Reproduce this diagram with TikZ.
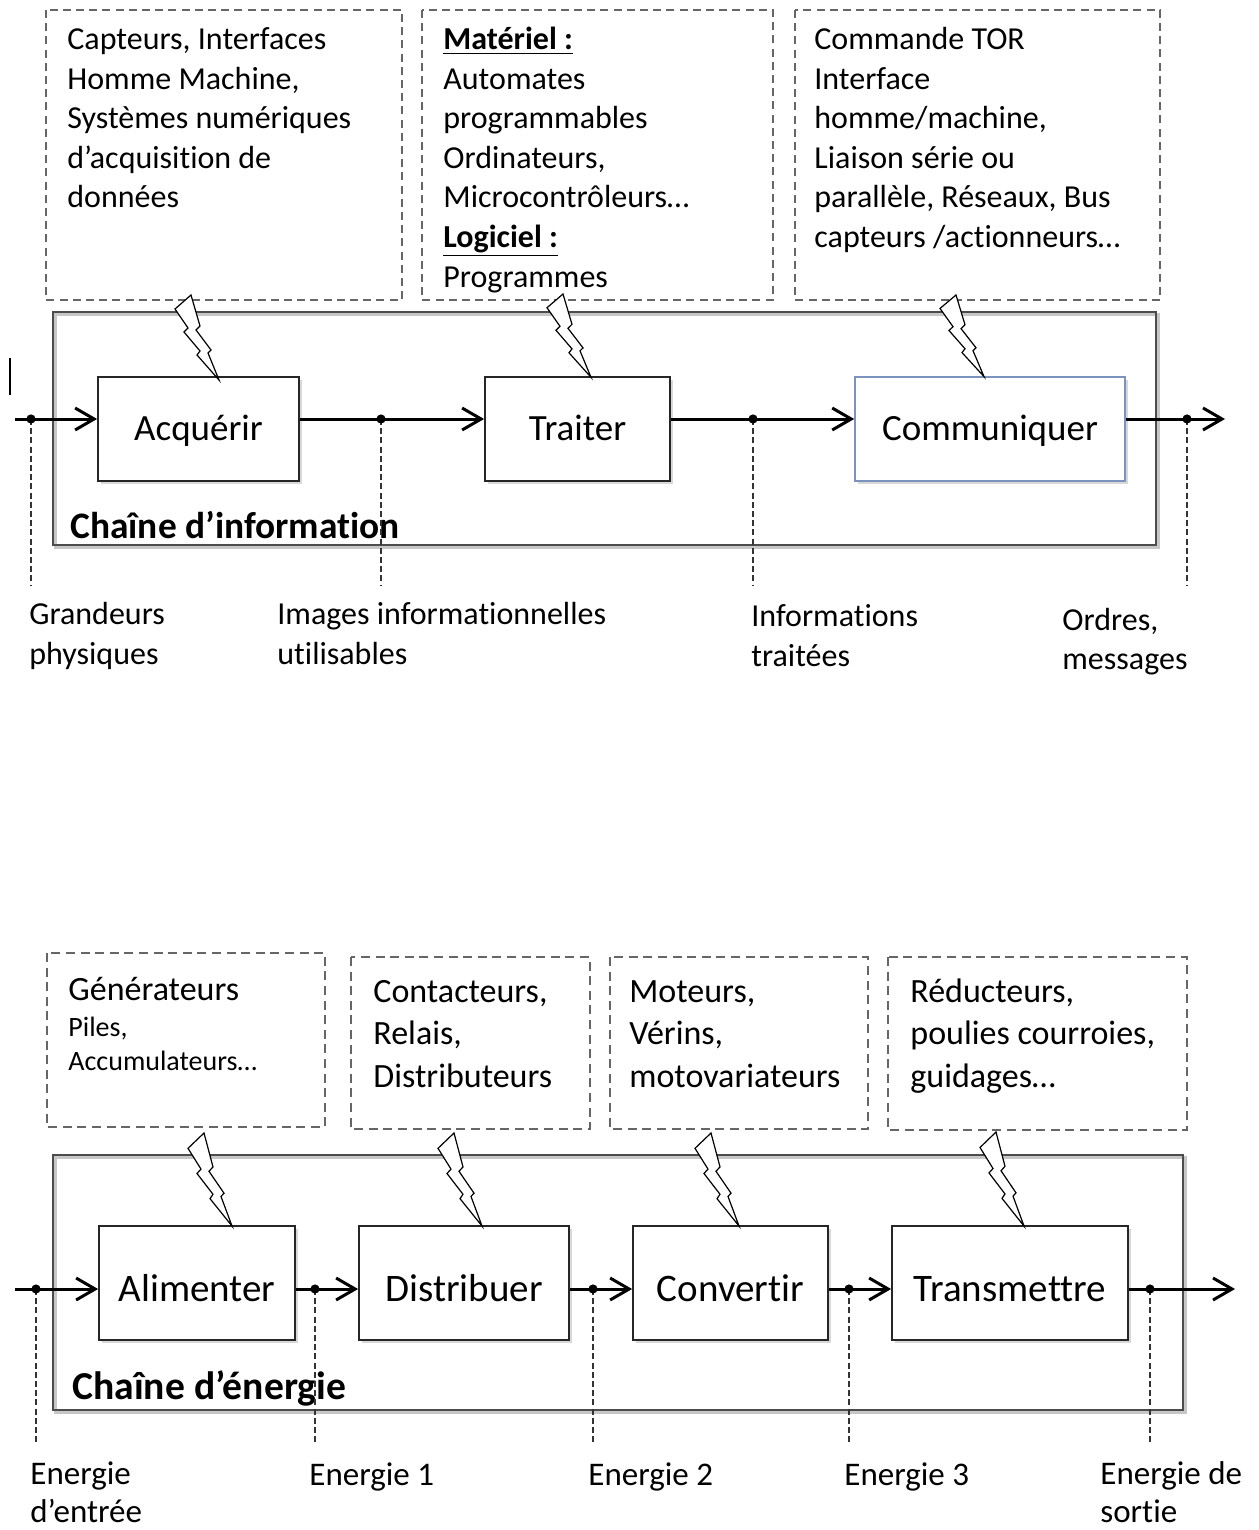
\documentclass[tikz,border=0pt]{standalone}
\usepackage{fontspec}
\setmainfont[Ligatures={NoCommon}]{Carlito}
\usetikzlibrary{arrows.meta,shadows}
\definecolor{combl}{HTML}{7C93BE}
\newcommand\fs[2]{\fontsize{#1}{#2}\selectfont}
\newcommand\zbolt[3]{\draw[boltst, shift={(#1,#2)}, yscale=#3] (0,0) -- (-16,14) -- (-3,33) -- (-7,37) -- (9,56) -- (6,60) -- (28,85) -- (17,58) -- (20,55) -- (5,35) -- (9,31) -- cycle;}
\tikzset{
  x=0.5pt, y=-0.5pt,
  dbox/.style={draw=black!60, line width=0.9pt, dash pattern=on 4pt off 2.6pt},
  edbox/.style={draw=black!60, line width=1.1pt, dash pattern=on 4.5pt off 2.8pt},
  chain/.style={draw=black!70, line width=1.1pt},
  chainshadow/.style={draw=black!22, line width=1.4pt},
  fbox/.style={draw=black!85, line width=0.9pt, fill=white, inner sep=0pt,
     drop shadow={shadow xshift=1.3pt, shadow yshift=-1.3pt, opacity=0.3}},
  topfn/.style={fbox, minimum height=52pt, font=\fs{18.5}{22}, text height=11.8pt, text depth=0pt},
  enfn/.style={fbox, minimum height=57pt, font=\fs{19.5}{23}, text height=18.5pt, text depth=0pt},
  flow/.style={line width=1.5pt, -{Straight Barb[length=9.5pt,width=11pt]}},
  tap/.style={draw=black!80, line width=0.8pt, dash pattern=on 3pt off 1.6pt},
  dot/.style={fill=black},
  boltst/.style={draw=black, line width=0.6pt, fill=white, line join=miter},
  tx/.style={anchor=base west, inner sep=0pt, font=\fs{16}{20}},
  etx/.style={anchor=base west, inner sep=0pt, font=\fs{17}{21}},
  esm/.style={anchor=base west, inner sep=0pt, font=\fs{14}{17}},
  elb/.style={anchor=base west, inner sep=0pt, font=\fs{16.5}{20}},
  ttl/.style={anchor=base west, inner sep=0pt, font=\bfseries\fs{18.7}{22}},
  ettl/.style={anchor=base west, inner sep=0pt, font=\bfseries\fs{19.8}{23}},
}
\begin{document}
\begin{tikzpicture}
\useasboundingbox[fill=white] (0,0) rectangle (1258,1530);

% ================= Chaine d'information =================
\draw[dbox] (46,10) rectangle (402,300);
\draw[dbox] (422,10) rectangle (773,300);
\draw[dbox] (795,10) rectangle (1160,300);

\node[tx] (a1) at (67,50) {Capteurs, Interfaces};
\node[tx] (a2) at (67,89.5) {Homme Machine,};
\node[tx] (a3) at (67,129) {Systèmes numériques};
\node[tx] (a4) at (67,168.5) {d’acquisition de};
\node[tx] (a5) at (67,208) {données};

\node[tx] (m1) at (443,50) {\underline{\textbf{Matériel :}}};
\node[tx] (m2) at (443,89.5) {Automates};
\node[tx] (m3) at (443,129) {programmables};
\node[tx] (m4) at (443,168.5) {Ordinateurs,};
\node[tx] (m5) at (443,208) {Microcontrôleurs…};
\node[tx] (m6) at (443,247.5) {\underline{\textbf{Logiciel :}}};
\node[tx] (m7) at (443,287) {Programmes};

\node[tx] (c1) at (814,50) {Commande TOR};
\node[tx] (c2) at (814,89.5) {Interface};
\node[tx] (c3) at (814,129) {homme/machine,};
\node[tx] (c4) at (814,168.5) {Liaison série ou};
\node[tx] (c5) at (814,208) {parallèle, Réseaux, Bus};
\node[tx] (c6) at (814,247.5) {capteurs /actionneurs…};

\draw[chainshadow] (55.5,314.5) rectangle (1158.5,547.5);
\draw[chain] (53,312) rectangle (1156,545);

\node[topfn, minimum width=100.5pt] (acq) at (198.5,429) {Acquérir};
\node[topfn, minimum width=92.5pt] (trt) at (577.5,429) {Traiter};
\node[topfn, minimum width=135pt, draw=combl, line width=0.8pt] (com) at (990,429) {Communiquer};

\node[ttl] (ci) at (70,538) {Chaîne d’information};

\draw[line width=0.7pt] (10,358) -- (10,395);

\coordinate (s1) at (15,419);
\coordinate (e1) at (1225,419);
\coordinate (d1) at (31,419);
\coordinate (d2) at (381,419);
\coordinate (d3) at (753,419);
\coordinate (d4) at (1187,419);
\coordinate (b1) at (31,585);
\coordinate (b2) at (381,585);
\coordinate (b3) at (753,585);
\coordinate (b4) at (1187,585);

\draw[flow] (s1) -- (s1 -| acq.west);
\draw[flow] (acq.east |- s1) -- (trt.west |- s1);
\draw[flow] (trt.east |- s1) -- (com.west |- s1);
\draw[flow] (com.east |- s1) -- (e1);

\draw[tap] (d1) -- (b1);
\draw[tap] (d2) -- (b2);
\draw[tap] (d3) -- (b3);
\draw[tap] (d4) -- (b4);
\fill[dot] (d1) circle (2.3pt);
\fill[dot] (d2) circle (2.3pt);
\fill[dot] (d3) circle (2.3pt);
\fill[dot] (d4) circle (2.3pt);

\zbolt{191}{295}{1}
\zbolt{563}{294}{0.98}
\zbolt{956}{295}{0.96}

\node[tx] (g1) at (29,624) {Grandeurs};
\node[tx] (g2) at (29,664) {physiques};
\node[tx] (i1) at (277,624) {Images informationnelles};
\node[tx] (i2) at (277,664) {utilisables};
\node[tx] (t1) at (751,626) {Informations};
\node[tx] (t2) at (751,666) {traitées};
\node[tx] (o1) at (1062,630) {Ordres,};
\node[tx] (o2) at (1062,669) {messages};

% ================= Chaine d'energie =================
\draw[edbox] (47,953) rectangle (325,1127);
\draw[edbox] (351,957) rectangle (590,1129);
\draw[edbox] (610,957) rectangle (868,1129);
\draw[edbox] (888,957) rectangle (1187,1130);

\node[etx] (ga) at (68,1000) {Générateurs};
\node[esm] (gb) at (68,1036) {Piles,};
\node[esm] (gc) at (68,1070) {Accumulateurs…};

\node[etx] (ka) at (373,1002) {Contacteurs,};
\node[etx] (kb) at (373,1044) {Relais,};
\node[etx] (kc) at (373,1087) {Distributeurs};

\node[etx] (va) at (629,1002) {Moteurs,};
\node[etx] (vb) at (629,1044) {Vérins,};
\node[etx] (vc) at (629,1087) {motovariateurs};

\node[etx] (ra) at (910,1002) {Réducteurs,};
\node[etx] (rb) at (910,1044) {poulies courroies,};
\node[etx] (rc) at (910,1087) {guidages…};

\draw[chainshadow] (55.5,1157.5) rectangle (1185.5,1412.5);
\draw[chain] (53,1155) rectangle (1183,1410);

\node[enfn, minimum width=98pt] (ali) at (197,1283) {Alimenter};
\node[enfn, minimum width=105pt] (dis) at (464,1283) {Distribuer};
\node[enfn, minimum width=97.5pt] (con) at (730.5,1283) {Convertir};
\node[enfn, minimum width=118pt] (tra) at (1010,1283) {Transmettre};

\node[ettl] (ce) at (72,1399) {Chaîne d’énergie};

\coordinate (s2) at (15,1289);
\coordinate (e2) at (1235,1289);
\coordinate (f1) at (36,1289);
\coordinate (f2) at (315,1289);
\coordinate (f3) at (593,1289);
\coordinate (f4) at (849,1289);
\coordinate (f5) at (1150,1289);
\coordinate (h1) at (36,1445);
\coordinate (h2) at (315,1445);
\coordinate (h3) at (593,1445);
\coordinate (h4) at (849,1445);
\coordinate (h5) at (1150,1445);

\draw[flow] (s2) -- (s2 -| ali.west);
\draw[flow] (ali.east |- s2) -- (dis.west |- s2);
\draw[flow] (dis.east |- s2) -- (con.west |- s2);
\draw[flow] (con.east |- s2) -- (tra.west |- s2);
\draw[flow] (tra.east |- s2) -- (e2);

\draw[tap] (f1) -- (h1);
\draw[tap] (f2) -- (h2);
\draw[tap] (f3) -- (h3);
\draw[tap] (f4) -- (h4);
\draw[tap] (f5) -- (h5);
\fill[dot] (f1) circle (2.3pt);
\fill[dot] (f2) circle (2.3pt);
\fill[dot] (f3) circle (2.3pt);
\fill[dot] (f4) circle (2.3pt);
\fill[dot] (f5) circle (2.3pt);

\zbolt{204}{1133}{1.094}
\zbolt{454}{1133}{1.094}
\zbolt{711}{1133}{1.094}
\zbolt{996}{1132}{1.106}

\node[elb] (n1) at (30,1484) {Energie};
\node[elb] (n2) at (30,1522) {d’entrée};
\node[elb] (n3) at (309,1485) {Energie 1};
\node[elb] (n4) at (588,1485) {Energie 2};
\node[elb] (n5) at (844,1485) {Energie 3};
\node[elb] (n6) at (1100,1484) {Energie de};
\node[elb] (n7) at (1100,1522) {sortie};
\end{tikzpicture}
\end{document}
